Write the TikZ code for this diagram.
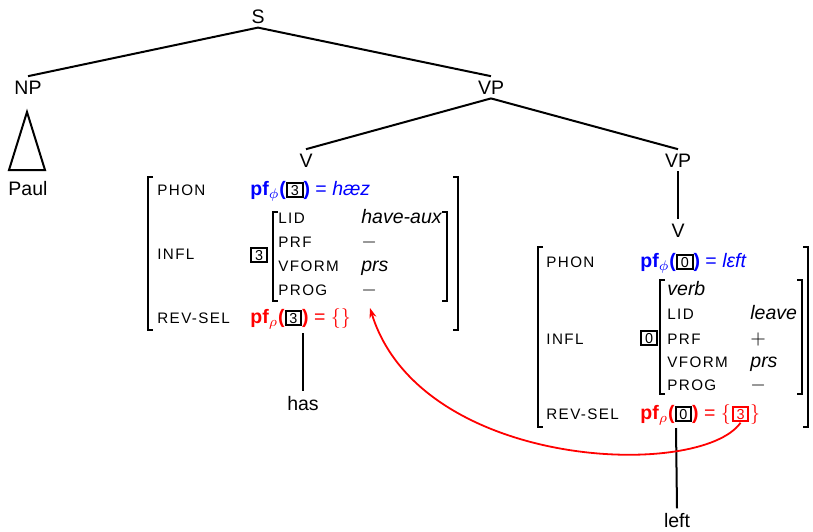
\documentclass[tikz,border=0pt]{standalone}
\usepackage{fontspec}
\setmainfont{Liberation Sans}
\newfontfamily\featfont[LetterSpace=9]{Liberation Sans}
\usetikzlibrary{arrows.meta}
\newcommand{\tg}[1]{{\setlength{\fboxsep}{0.6pt}\setlength{\fboxrule}{1pt}\fbox{\makebox[5.6pt]{\fontsize{7.2}{8}\selectfont #1}}}}
\newcommand{\btg}[1]{{\color{black}\tg{#1}}}

\begin{document}
\begin{tikzpicture}[x=0.5pt,y=-0.5pt,
 cat/.style ={font=\fontsize{9.75}{11}\selectfont,anchor=base,inner sep=2pt},
 feat/.style ={font=\featfont\fontsize{7.6}{9}\selectfont,anchor=base west,inner sep=0pt},
 val/.style ={font=\fontsize{9.75}{11}\selectfont,anchor=base west,inner sep=0pt},
 branch/.style ={-,draw=black,line width=1pt},
 brk/.style ={-,draw=black,line width=0.7pt},
 link/.style ={draw=red,line width=0.9pt,-{Stealth[length=5pt,width=3.5pt]}}
 ]
\useasboundingbox (0,0) rectangle (813,531);
%draw tree categories
\node[cat] (S) at (258,23) {S};
\node[cat] (NP) at (28,94) {NP};
\node[cat] (VP) at (491,94) {VP};
\node[cat] (V) at (306,167) {V};
\node[cat] (VPb) at (678,167) {VP};
\node[cat] (Vb) at (678,237) {V};
\node[cat] (Paul) at (28,195) {Paul};
\node[cat] (has) at (303,410) {has};
\node[cat] (left) at (677,527) {left};
%draw branches
\draw[branch] (S.south) -- (NP.north);
\draw[branch] (S.south) -- (VP.north);
\draw[branch] (VP.south) -- (V.north);
\draw[branch] (VP.south) -- (VPb.north);
\draw[branch] (VPb.south) -- (Vb.north);
%draw triangle under NP
\draw[branch,line join=miter] (27,112) -- (9,170) -- (45,170) -- cycle;

%draw AVM of V (has)
\draw[brk] (153,177) -- (148,177) -- (148,330) -- (153,330);
\draw[brk] (453,177) -- (458,177) -- (458,330) -- (453,330);
\node[feat] (phonA) at (157,195) {PHON};
\node[val,text=blue] (phonAv) at (250,195) {\textbf{pf}$_\phi$\textbf{(}\btg{3}\textbf{)} = \textit{hæz}};
\node[feat] (inflA) at (157,259) {INFL};
\node[val] (tagA) at (250,260) {\tg{3}};
\draw[brk] (278,212) -- (273,212) -- (273,301) -- (278,301);
\draw[brk] (442,212) -- (447,212) -- (447,301) -- (442,301);
\node[feat] (lidA) at (278,223) {LID};
\node[val] (lidAv) at (361,223) {\textit{have-aux}};
\node[feat] (prfA) at (278,247) {PRF};
\node[val] (prfAv) at (361,247) {$-$};
\node[feat] (vformA) at (278,271) {VFORM};
\node[val] (vformAv) at (361,271) {\textit{prs}};
\node[feat] (progA) at (278,295) {PROG};
\node[val] (progAv) at (361,295) {$-$};
\node[feat] (revA) at (157,323) {REV-SEL};
\node[val,text=red] (revAv) at (250,323) {\textbf{pf}$_\rho$\textbf{(}\btg{3}\textbf{)} = $\{\}$};
\coordinate (hasTop) at (303,333);
\draw[branch] (hasTop) -- (has.north);

%draw AVM of V (left)
\draw[brk] (543,247) -- (538,247) -- (538,427) -- (543,427);
\draw[brk] (803,247) -- (808,247) -- (808,427) -- (803,427);
\node[feat] (phonB) at (546,267) {PHON};
\node[val,text=blue] (phonBv) at (640,267) {\textbf{pf}$_\phi$\textbf{(}\btg{0}\textbf{)} = \textit{lεft}};
\node[feat] (inflB) at (546,344) {INFL};
\node[val] (tagB) at (640,343) {\tg{0}};
\draw[brk] (665,280) -- (660,280) -- (660,394) -- (665,394);
\draw[brk] (797,280) -- (802,280) -- (802,394) -- (797,394);
\node[val] (typeB) at (667,295) {\textit{verb}};
\node[feat] (lidB) at (667,319) {LID};
\node[val] (lidBv) at (750,319) {\textit{leave}};
\node[feat] (prfB) at (667,344) {PRF};
\node[val] (prfBv) at (750,344) {$+$};
\node[feat] (vformB) at (667,367) {VFORM};
\node[val] (vformBv) at (750,367) {\textit{prs}};
\node[feat] (progB) at (667,390) {PROG};
\node[val] (progBv) at (750,390) {$-$};
\node[feat] (revB) at (546,419) {REV-SEL};
\node[val,text=red] (revBv) at (640,419) {\textbf{pf}$_\rho$\textbf{(}\btg{0}\textbf{)} = $\{$};
\node[val,text=red] (red3) at (revBv.base east) {\tg{3}};
\node[val,text=red] (revBc) at (red3.base east) {$\}$};
\coordinate (leftTop) at (676,428);
\draw[branch] (leftTop) -- (left.north);

%draw reverse selection link
\coordinate (revTip) at (370,308);
\draw[link] (red3.south) .. controls (700,480) and (420,470) .. (revTip);
\end{tikzpicture}
\end{document}
